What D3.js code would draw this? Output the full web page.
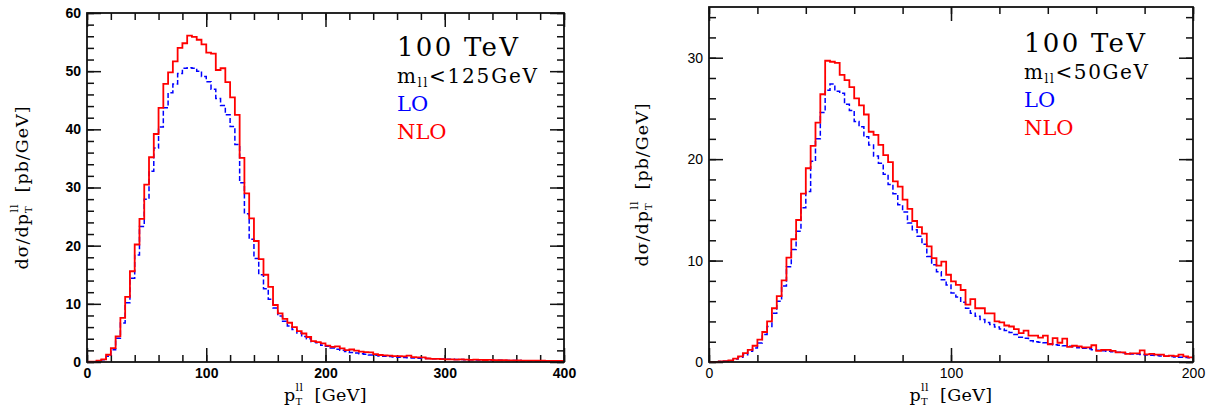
<!DOCTYPE html>
<html><head><meta charset="utf-8">
<script src="https://cdn.jsdelivr.net/npm/d3@7"></script>
<style>body{margin:0;background:#fff}</style>
</head><body>
<svg id="chart" width="1217" height="414"></svg>
<script>
// ---- data ----
const leftBinWidth = 4;   // GeV
const leftLO = [0.03,0.06,0.18,0.4,0.97,2.1,4.1,6.7,10.2,14.4,18.4,23.3,28.0,32.8,36.8,40.4,43.7,46.3,47.8,49.6,
 50.5,50.6,50.5,50.0,49.1,48.2,46.9,45.3,44.1,42.5,40.5,37.4,30.8,25.5,21.1,17.8,15.0,12.6,10.8,9.3,
 7.9,7.0,6.2,5.6,5.0,4.4,4.0,3.5,3.3,2.9,2.7,2.4,2.2,2.0,1.8,1.65,1.55,1.43,1.35,1.22,
 1.15,1.05,0.98,0.93,0.88,0.83,0.78,0.74,0.70,0.66,0.63,0.60,0.57,0.54,0.51,0.48,0.46,0.44,0.42,0.40,
 0.38,0.36,0.34,0.33,0.31,0.30,0.28,0.27,0.26,0.25,0.24,0.23,0.22,0.21,0.20,0.19,0.18,0.17,0.17,0.16];
const leftNLO = [0.04,0.08,0.22,0.45,1.25,2.4,4.4,7.6,11.2,15.6,20.2,24.6,30.5,35.2,39.2,43.7,47.8,49.8,51.7,54.0,
 54.8,56.1,55.9,55.4,54.6,53.2,53.0,50.2,50.5,48.1,45.5,42.5,35.1,29.0,24.7,20.8,17.7,15.0,12.9,9.8,
 8.35,7.4,6.75,6.0,5.3,4.9,4.3,3.6,3.4,3.2,2.8,2.6,2.7,2.35,2.05,2.15,1.95,1.8,1.7,1.65,
 1.35,1.2,1.15,1.1,1.0,1.0,0.95,1.1,0.85,0.8,0.8,0.6,0.55,0.55,0.5,0.45,0.45,0.42,0.45,0.4,
 0.38,0.4,0.36,0.34,0.35,0.32,0.3,0.31,0.28,0.27,0.28,0.25,0.24,0.25,0.22,0.22,0.2,0.21,0.19,0.2];

const rightBinWidth = 2;  // GeV
const rightLO = [0.01,0.02,0.04,0.08,0.13,0.3,0.46,0.72,1.05,1.38,1.87,2.7,3.5,4.8,6.0,7.5,9.4,11.1,12.9,15.2,
 16.8,19.8,22.0,24.6,26.8,27.4,26.7,26.5,25.4,24.8,23.7,23.2,22.2,21.4,20.3,19.6,18.5,17.5,16.6,15.5,
 14.8,13.7,13.05,12.4,11.6,10.4,9.6,8.9,8.1,7.6,6.8,6.4,5.9,5.3,4.8,4.5,4.2,3.9,3.7,3.45,
 3.25,3.1,2.9,2.7,2.45,2.35,2.1,2.0,1.95,1.9,1.8,1.7,1.65,1.6,1.55,1.5,1.4,1.35,1.3,1.2,
 1.15,1.1,1.05,1.0,0.95,0.9,0.85,0.8,0.78,0.75,0.7,0.67,0.63,0.6,0.57,0.54,0.5,0.48,0.45,0.42];
const rightNLO = [0.01,0.02,0.05,0.09,0.16,0.33,0.55,0.88,1.2,1.6,2.2,2.96,4.0,5.3,6.5,8.05,10.3,12.1,14.0,16.6,
 19.1,21.3,23.6,26.4,29.7,29.6,29.5,28.3,27.8,27.1,26.0,25.3,24.4,22.7,22.4,21.4,20.4,19.7,17.8,17.3,
 16.0,15.1,13.9,13.3,12.65,11.4,10.25,9.5,9.9,8.6,7.95,7.6,7.1,5.65,6.2,5.3,5.3,4.8,4.8,4.0,
 3.9,3.6,3.5,3.25,2.85,3.1,2.6,2.6,2.4,2.6,1.75,2.35,1.9,2.3,1.5,1.6,1.55,1.45,1.45,1.65,
 1.1,1.2,1.2,1.1,0.95,0.95,0.8,0.85,0.85,1.15,0.75,0.8,0.72,0.72,0.58,0.62,0.58,0.72,0.56,0.45];

const leftXTicks = [0,100,200,300,400];
const leftYTicks = [0,10,20,30,40,50,60];
const rightXTicks = [0,100,200];
const rightYTicks = [0,10,20,30];
const leftLegend = {energy:"100 TeV", cut:"<125GeV"};
const rightLegend = {energy:"100 TeV", cut:"<50GeV"};
const seriesNames = ["LO","NLO"];

// ---- drawing ----
const svg = d3.select("#chart");
const SERIF = "'DejaVu Serif', serif";

function panel(o){
  const g = svg.append("g");
  const x = d3.scaleLinear().domain(o.xDomain).range([o.x0,o.x1]);
  const y = d3.scaleLinear().domain(o.yDomain).range([o.y1,o.y0]);
  const xMinor = d3.range(o.xDomain[0], o.xDomain[1]+1e-9, o.xMinorStep);
  const yMinor = d3.range(o.yDomain[0], o.yDomain[1]+1e-9, o.yMinorStep);

  function ax(axisFn, scale, vals, size, labels, tr){
    const a = axisFn(scale).tickValues(vals).tickSizeInner(-size).tickSizeOuter(0).tickPadding(labels?6:0);
    if(!labels) a.tickFormat("");
    const s = g.append("g").attr("transform", tr).call(a);
    s.select(".domain").remove();
    s.selectAll(".tick line").attr("stroke","#111").attr("stroke-width",1.5);
    s.selectAll("text").attr("fill","#000").style("font-family","'Liberation Sans', Arial, sans-serif")
      .style("font-size","14px").style("font-weight", o.bold?"bold":"normal");
    return s;
  }
  // minor ticks
  ax(d3.axisBottom, x, xMinor, 7, false, `translate(0,${o.y1})`);
  ax(d3.axisTop, x, xMinor, 7, false, `translate(0,${o.y0})`);
  ax(d3.axisLeft, y, yMinor, 7, false, `translate(${o.x0},0)`);
  ax(d3.axisRight, y, yMinor, 7, false, `translate(${o.x1},0)`);
  // major ticks
  ax(d3.axisBottom, x, o.xTicks, 14, true, `translate(0,${o.y1})`);
  ax(d3.axisTop, x, o.xTicks, 14, false, `translate(0,${o.y0})`);
  ax(d3.axisLeft, y, o.yTicks, 14, true, `translate(${o.x0},0)`);
  ax(d3.axisRight, y, o.yTicks, 14, false, `translate(${o.x1},0)`);

  // histograms
  function hist(vals, bw){
    const pts = vals.map((v,i)=>[i*bw, v]);
    pts.push([vals.length*bw, vals[vals.length-1]]);
    return d3.line().x(d=>x(d[0])).y(d=>y(d[1])).curve(d3.curveStepAfter)(pts);
  }
  g.append("path").attr("d", hist(o.lo, o.bw)).attr("fill","none")
    .attr("stroke","#0000ff").attr("stroke-width",1.5).attr("stroke-dasharray","5,2.5");
  g.append("path").attr("d", hist(o.nlo, o.bw)).attr("fill","none")
    .attr("stroke","#ff0000").attr("stroke-width",1.8);

  // frame
  g.append("rect").attr("x",o.x0).attr("y",o.y0).attr("width",o.x1-o.x0).attr("height",o.y1-o.y0)
    .attr("fill","none").attr("stroke","#111").attr("stroke-width",1.8);

  // x label
  const xl = g.append("text").attr("x",(o.x0+o.x1)/2).attr("y",401).attr("text-anchor","middle")
    .style("font-family",SERIF).style("font-size","17.5px").style("letter-spacing","0.4px").attr("fill","#000");
  xl.append("tspan").text("p");
  xl.append("tspan").attr("dy",4).style("font-size","10px").text("T");
  xl.append("tspan").attr("dx",-7).attr("dy",-14).style("font-size","11px").text("ll");
  xl.append("tspan").attr("dx",11).attr("dy",10).text("[GeV]");

  // y label
  const yl = g.append("text").attr("transform",`translate(${o.ylx},${(o.y0+o.y1)/2}) rotate(-90)`)
    .attr("text-anchor","middle").style("font-family",SERIF).style("font-size","17.5px")
    .style("letter-spacing","1px").attr("fill","#000");
  yl.append("tspan").text("dσ/dp");
  yl.append("tspan").attr("dy",4).style("font-size","10px").text("T");
  yl.append("tspan").attr("dx",-7).attr("dy",-14).style("font-size","11px").text("ll");
  yl.append("tspan").attr("dx",11).attr("dy",10).text("[pb/GeV]");

  // legend
  const lx = o.legX;
  g.append("text").attr("x",lx).attr("y",o.legY).attr("textLength",121).attr("lengthAdjust","spacing")
    .style("font-family",SERIF).style("font-size","26px").attr("fill","#000").text(o.leg.energy);
  const m = g.append("text").attr("x",lx).attr("y",o.legY+26.5).attr("textLength",o.cutLen)
    .attr("lengthAdjust","spacing").style("font-family",SERIF)
    .style("font-size","20px").attr("fill","#000");
  m.append("tspan").text("m");
  m.append("tspan").attr("dy",4).style("font-size","12px").text("ll");
  m.append("tspan").attr("dy",-4).text(o.leg.cut);
  g.append("text").attr("x",lx).attr("y",o.legY+54.5).style("font-family",SERIF)
    .style("font-size","21px").attr("fill","#0000ff").text(seriesNames[0]);
  g.append("text").attr("x",lx).attr("y",o.legY+82.5).style("font-family",SERIF)
    .style("font-size","21px").attr("fill","#ff0000").text(seriesNames[1]);
}

panel({x0:87,x1:564,y0:13,y1:362, xDomain:[0,400], yDomain:[0,60], xMinorStep:20, yMinorStep:2,
  xTicks:leftXTicks, yTicks:leftYTicks, lo:leftLO, nlo:leftNLO, bw:leftBinWidth, bold:true,
  ylx:28, legX:397, legY:56, leg:leftLegend, cutLen:140});
panel({x0:709,x1:1193,y0:7,y1:362, xDomain:[0,200], yDomain:[0,35], xMinorStep:20, yMinorStep:2,
  xTicks:rightXTicks, yTicks:rightYTicks, lo:rightLO, nlo:rightNLO, bw:rightBinWidth, bold:false,
  ylx:648, legX:1024, legY:52, leg:rightLegend, cutLen:124});
</script>
</body></html>
